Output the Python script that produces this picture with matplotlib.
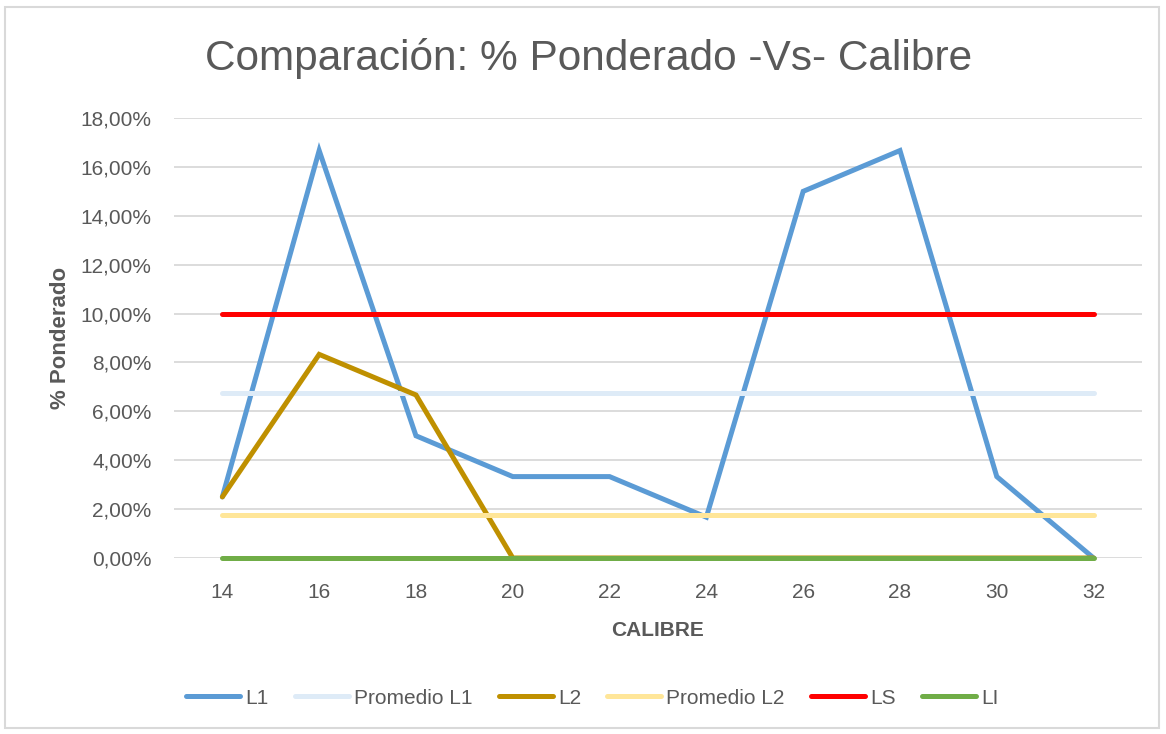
import matplotlib.pyplot as plt
import numpy as np
from matplotlib.patches import Rectangle
from matplotlib.ticker import FuncFormatter

calibre = ["14", "16", "18", "20", "22", "24", "26", "28", "30", "32"]
l1 = [2.50, 16.67, 5.00, 3.33, 3.33, 1.67, 15.00, 16.67, 3.33, 0.00]
l2 = [2.50, 8.33, 6.67, 0.00, 0.00, 0.00, 0.00, 0.00, 0.00, 0.00]
prom_l1 = [6.75] * 10
prom_l2 = [1.75] * 10
ls = [10.0] * 10
li = [0.0] * 10

plt.rcParams["font.family"] = ["Liberation Sans", "DejaVu Sans"]
txt = "#595959"

fig = plt.figure(figsize=(11.66, 7.34), dpi=100)
ax = fig.add_axes([0.1492, 0.2398, 0.8302, 0.5994])
fig.patches.append(Rectangle((5 / 1166, 6 / 734), 1154 / 1166, 721 / 734,
                             transform=fig.transFigure, fill=False,
                             edgecolor="#D9D9D9", linewidth=1.5))

x = np.arange(len(calibre))
lw = 3.6
series = [
    (l1, "#5B9BD5", "L1"),
    (prom_l1, "#DEEBF7", "Promedio L1"),
    (l2, "#BF9000", "L2"),
    (prom_l2, "#FFE699", "Promedio L2"),
    (ls, "#FF0000", "LS"),
    (li, "#70AD47", "LI"),
]
for vals, col, lab in series:
    ax.plot(x, vals, color=col, linewidth=lw, label=lab,
            solid_capstyle="round", solid_joinstyle="miter", clip_on=False)

ax.set_xlim(-0.5, len(calibre) - 0.5)
ax.set_ylim(0, 18)
ax.set_yticks(np.arange(0, 19, 2))
ax.yaxis.set_major_formatter(FuncFormatter(lambda v, p: f"{v:.2f}".replace(".", ",") + "%"))
ax.set_xticks(x)
ax.set_xticklabels(calibre)
ax.grid(axis="y", color="#D9D9D9", linewidth=1.3)
ax.set_axisbelow(True)
for s in ax.spines.values():
    s.set_visible(False)
ax.tick_params(length=0, labelsize=15, colors=txt, pad=16)
ax.tick_params(axis="x", pad=18)

ax.set_xlabel("CALIBRE", fontsize=15, fontweight="bold", color=txt, labelpad=14)
ax.set_ylabel("% Ponderado", fontsize=16, fontweight="bold", color=txt, labelpad=7)
fig.text(0.505, 0.920, "Comparación: % Ponderado -Vs- Calibre", ha="center", va="center",
         fontsize=30.5, color=txt)

fig.legend(loc="center", bbox_to_anchor=(0.508, 0.049), ncol=6, frameon=False,
           fontsize=15, labelcolor=txt, handlelength=2.6, columnspacing=1.25,
           handletextpad=0.25)

fig.savefig("out.png", dpi=100)
